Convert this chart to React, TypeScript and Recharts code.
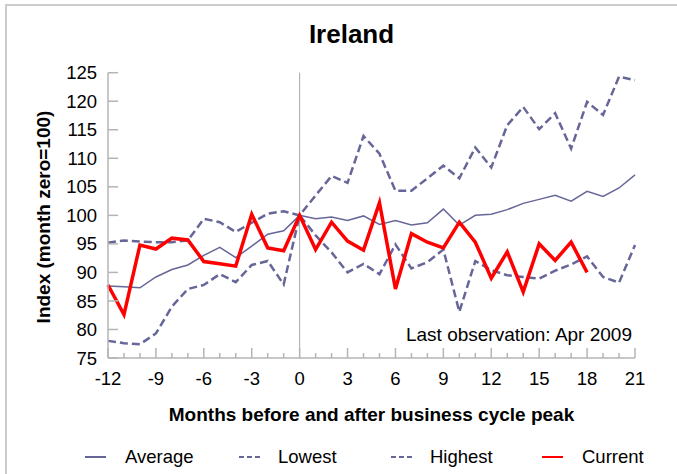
import React from 'react';
import { LineChart, Line, XAxis, YAxis, ReferenceLine } from 'recharts';

// months relative to the business cycle peak
const months = [
  -12, -11, -10, -9, -8, -7, -6, -5, -4, -3, -2, -1, 0, 1, 2, 3, 4, 5, 6, 7, 8, 9, 10, 11, 12,
  13, 14, 15, 16, 17, 18, 19, 20, 21,
];

const average = [
  87.6, 87.5, 87.3, 89.2, 90.5, 91.3, 93.0, 94.4, 92.6, 94.6, 96.7, 97.3, 100, 99.4, 99.7, 99.1,
  99.9, 98.4, 99.1, 98.3, 98.7, 101.1, 98.3, 100.0, 100.2, 101.0, 102.1, 102.8, 103.5, 102.5,
  104.2, 103.3, 104.8, 107.1,
];

const lowest = [
  78.0, 77.6, 77.4, 79.3, 84.0, 87.1, 87.8, 89.7, 88.3, 91.3, 92.0, 87.9, 100, 96.5, 93.5, 90.0,
  91.5, 89.7, 94.9, 90.7, 91.8, 94.0, 83.1, 92.0, 90.4, 89.5, 89.2, 88.9, 90.3, 91.4, 92.8, 89.2,
  88.2, 94.8,
];

const highest = [
  95.2, 95.6, 95.4, 95.3, 95.3, 95.6, 99.4, 98.8, 97.1, 98.7, 100.3, 100.7, 100, 103.5, 106.9,
  105.7, 113.9, 110.8, 104.3, 104.3, 106.5, 108.7, 106.5, 111.9, 108.4, 115.8, 119.0, 115.1, 117.9,
  111.7, 119.9, 117.6, 124.3, 123.7,
];

// current cycle, last observation Apr 2009 (month 18)
const current = [
  87.8, 82.6, 94.8, 94.1, 96.0, 95.7, 91.9, 91.5, 91.1, 100.2, 94.3, 93.8, 100, 94.0, 98.8, 95.5,
  93.9, 102.2, 87.1, 96.8, 95.3, 94.3, 98.8, 95.3, 89.0, 93.6, 86.6, 95.0, 92.1, 95.3, 90.0,
];

const yTicks = [75, 80, 85, 90, 95, 100, 105, 110, 115, 120, 125];

const chartData = months.map((m, i) => ({
  month: m,
  average: average[i],
  lowest: lowest[i],
  highest: highest[i],
  current: i < current.length ? current[i] : null,
}));

const FONT = '"Liberation Sans", Arial, sans-serif';
const SERIES = '#666699';
const AXIS = '#b4b4b4';

const XTick = (props: any) => {
  const { x, y, payload } = props;
  const major = payload.value % 3 === 0;
  return (
    <g>
      <line x1={x} x2={x} y1={y} y2={y - (major ? 10 : 5)} stroke={AXIS} strokeWidth={1.5} />
      {major && (
        <text x={x} y={y + 26.8} textAnchor="middle" fontSize={18.5} fontFamily={FONT} fill="#000">
          {payload.value}
        </text>
      )}
    </g>
  );
};

const YTick = (props: any) => {
  const { x, y, payload } = props;
  return (
    <g>
      <line x1={x} x2={x + 10} y1={y} y2={y} stroke={AXIS} strokeWidth={1.5} />
      <text x={x - 11} y={y + 6.6} textAnchor="end" fontSize={18.5} fontFamily={FONT} fill="#000">
        {payload.value}
      </text>
    </g>
  );
};

const legendItems = [
  { name: 'Average', color: SERIES, dash: undefined, width: 2, left: 85, textLeft: 125 },
  { name: 'Lowest', color: SERIES, dash: '5 3', width: 2, left: 239, textLeft: 278 },
  { name: 'Highest', color: SERIES, dash: '5 3', width: 2, left: 391, textLeft: 430 },
  { name: 'Current', color: '#ff0000', dash: undefined, width: 2, left: 542, textLeft: 582 },
];

export default function App() {
  return (
    <div
      style={{
        position: 'absolute',
        left: 0,
        top: 0,
        width: 677,
        height: 474,
        background: '#fff',
        fontFamily: FONT,
        overflow: 'hidden',
      }}
    >
      {/* frame */}
      <div
        style={{
          position: 'absolute',
          left: 5,
          top: 4,
          width: 680,
          height: 480,
          borderTop: '2px solid #cccccc',
          borderLeft: '2px solid #cccccc',
        }}
      />
      <LineChart
        width={677}
        height={474}
        data={chartData}
        margin={{ top: 72.7, right: 42, left: 0, bottom: 0 }}
      >
        <XAxis
          dataKey="month"
          type="number"
          domain={[-12, 21]}
          ticks={months}
          interval={0}
          height={116}
          tickSize={0}
          tickMargin={0}
          tickLine={false}
          tick={<XTick />}
          axisLine={{ stroke: AXIS, strokeWidth: 1.5 }}
        />
        <YAxis
          type="number"
          domain={[75, 125]}
          ticks={yTicks}
          interval={0}
          width={108}
          tickSize={0}
          tickMargin={0}
          tickLine={false}
          tick={<YTick />}
          axisLine={{ stroke: AXIS, strokeWidth: 1.5 }}
        />
        <ReferenceLine x={0} stroke="#a8a8a8" strokeWidth={1} />
        <Line
          dataKey="highest"
          stroke={SERIES}
          strokeWidth={2.5}
          strokeDasharray="8 4"
          dot={false}
          activeDot={false}
          isAnimationActive={false}
        />
        <Line
          dataKey="lowest"
          stroke={SERIES}
          strokeWidth={2.5}
          strokeDasharray="8 4"
          dot={false}
          activeDot={false}
          isAnimationActive={false}
        />
        <Line
          dataKey="average"
          stroke={SERIES}
          strokeWidth={1.5}
          dot={false}
          activeDot={false}
          isAnimationActive={false}
        />
        <Line
          dataKey="current"
          stroke="#ff0000"
          strokeWidth={3.5}
          dot={false}
          activeDot={false}
          isAnimationActive={false}
        />
      </LineChart>

      {/* title */}
      <div
        style={{
          position: 'absolute',
          left: 351.5,
          top: 20.6,
          transform: 'translateX(-50%)',
          fontSize: 26,
          lineHeight: '26px',
          fontWeight: 'bold',
          whiteSpace: 'nowrap',
        }}
      >
        Ireland
      </div>

      {/* y axis title */}
      <div
        style={{
          position: 'absolute',
          left: 43,
          top: 217,
          transform: 'translate(-50%, -50%) rotate(-90deg)',
          fontSize: 19,
          lineHeight: '19px',
          fontWeight: 'bold',
          whiteSpace: 'nowrap',
        }}
      >
        Index (month zero=100)
      </div>

      {/* x axis title */}
      <div
        style={{
          position: 'absolute',
          left: 108,
          width: 527,
          top: 404.7,
          textAlign: 'center',
          fontSize: 19,
          lineHeight: '19px',
          fontWeight: 'bold',
          whiteSpace: 'nowrap',
        }}
      >
        Months before and after business cycle peak
      </div>

      {/* annotation */}
      <div
        style={{
          position: 'absolute',
          right: 45,
          top: 325,
          fontSize: 19,
          lineHeight: '19px',
          whiteSpace: 'nowrap',
        }}
      >
        Last observation: Apr 2009
      </div>

      {/* legend */}
      {legendItems.map((it) => (
        <React.Fragment key={it.name}>
          <svg
            width={21}
            height={6}
            style={{ position: 'absolute', left: it.left, top: 454 }}
          >
            <line
              x1={0}
              x2={21}
              y1={3}
              y2={3}
              stroke={it.color}
              strokeWidth={it.width}
              strokeDasharray={it.dash}
            />
          </svg>
          <div
            style={{
              position: 'absolute',
              left: it.textLeft,
              top: 448,
              fontSize: 18.5,
              lineHeight: '18.5px',
              whiteSpace: 'nowrap',
            }}
          >
            {it.name}
          </div>
        </React.Fragment>
      ))}
    </div>
  );
}
